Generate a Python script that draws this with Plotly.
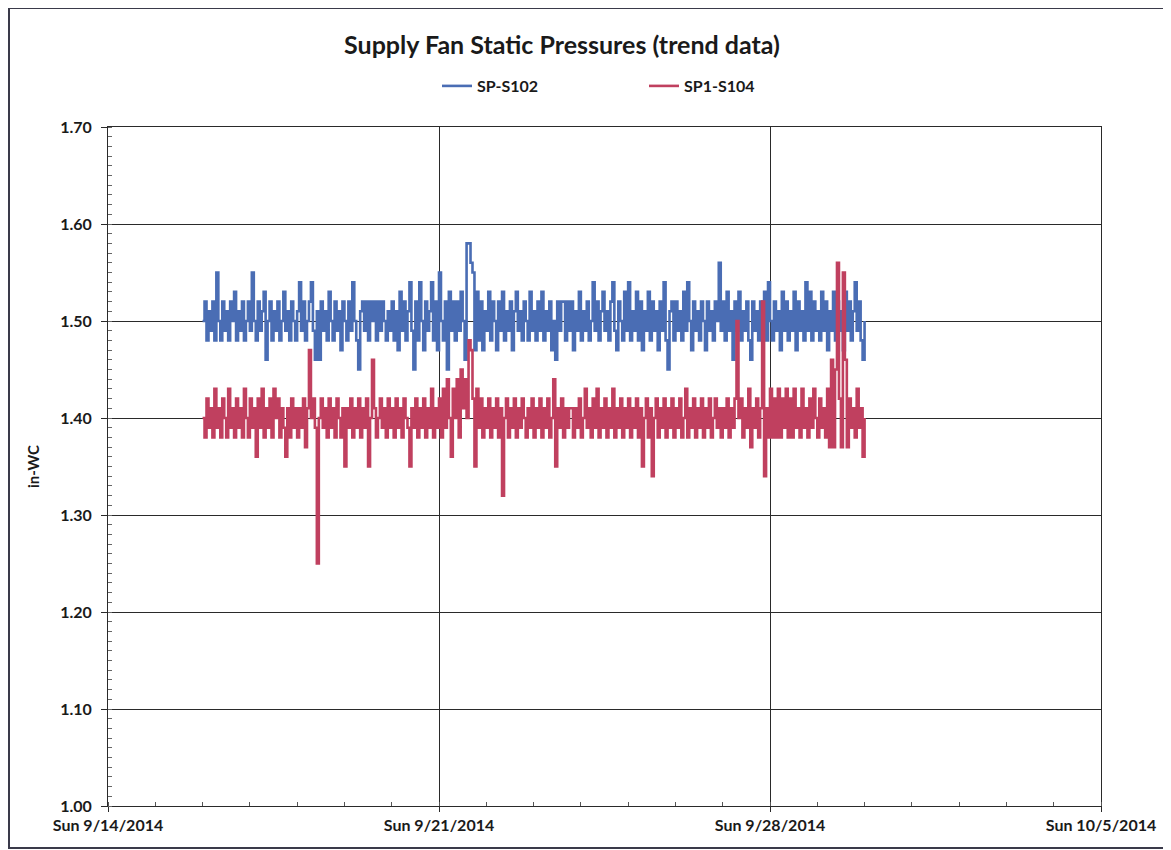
import pandas as pd
import plotly.graph_objects as go

# ---- data (hourly readings, 9/16/2014 00:00 .. 9/30/2014 00:00) ----
start_time = "2014-09-16 00:00"
sample_freq = "h"

sp_s102 = [
    1.50, 1.52, 1.48, 1.51, 1.49, 1.52, 1.48, 1.55, 1.50, 1.48, 1.52, 1.49, 1.51, 1.48, 1.52, 1.50, 1.53, 1.48, 1.51, 1.49, 1.52, 1.48, 1.50, 1.52,
    1.49, 1.55, 1.50, 1.48, 1.52, 1.49, 1.51, 1.53, 1.46, 1.50, 1.52, 1.48, 1.51, 1.49, 1.52, 1.48, 1.50, 1.53, 1.49, 1.51, 1.48, 1.52, 1.50, 1.48,
    1.51, 1.54, 1.49, 1.52, 1.48, 1.50, 1.52, 1.54, 1.49, 1.46, 1.51, 1.46, 1.52, 1.49, 1.51, 1.48, 1.53, 1.50, 1.48, 1.52, 1.49, 1.51, 1.47, 1.52,
    1.50, 1.48, 1.52, 1.49, 1.54, 1.50, 1.48, 1.45, 1.51, 1.52, 1.49, 1.52, 1.48, 1.52, 1.50, 1.52, 1.48, 1.52, 1.49, 1.52, 1.50, 1.48, 1.51, 1.49,
    1.52, 1.48, 1.51, 1.47, 1.53, 1.49, 1.52, 1.48, 1.51, 1.54, 1.49, 1.45, 1.52, 1.48, 1.54, 1.50, 1.47, 1.52, 1.49, 1.51, 1.54, 1.48, 1.52, 1.47,
    1.55, 1.50, 1.48, 1.52, 1.45, 1.53, 1.49, 1.52, 1.48, 1.52, 1.49, 1.53, 1.50, 1.46, 1.58, 1.58, 1.56, 1.55, 1.47, 1.53, 1.48, 1.52, 1.47, 1.51,
    1.49, 1.53, 1.48, 1.52, 1.50, 1.47, 1.52, 1.49, 1.53, 1.48, 1.51, 1.49, 1.52, 1.47, 1.51, 1.53, 1.49, 1.51, 1.48, 1.52, 1.50, 1.48, 1.53, 1.49,
    1.51, 1.48, 1.52, 1.49, 1.53, 1.48, 1.51, 1.49, 1.52, 1.47, 1.50, 1.46, 1.52, 1.49, 1.52, 1.52, 1.48, 1.52, 1.49, 1.52, 1.47, 1.51, 1.49, 1.53,
    1.48, 1.51, 1.49, 1.52, 1.48, 1.50, 1.54, 1.49, 1.52, 1.48, 1.51, 1.53, 1.49, 1.51, 1.48, 1.52, 1.54, 1.49, 1.47, 1.52, 1.50, 1.48, 1.53, 1.49,
    1.54, 1.48, 1.51, 1.49, 1.53, 1.48, 1.52, 1.47, 1.51, 1.49, 1.53, 1.48, 1.52, 1.49, 1.51, 1.47, 1.52, 1.49, 1.54, 1.48, 1.45, 1.51, 1.52, 1.48,
    1.52, 1.49, 1.51, 1.48, 1.53, 1.49, 1.54, 1.50, 1.47, 1.52, 1.49, 1.51, 1.48, 1.52, 1.50, 1.47, 1.52, 1.49, 1.51, 1.48, 1.52, 1.50, 1.56, 1.49,
    1.52, 1.48, 1.53, 1.49, 1.51, 1.46, 1.52, 1.49, 1.53, 1.48, 1.51, 1.49, 1.52, 1.48, 1.46, 1.52, 1.49, 1.51, 1.48, 1.52, 1.49, 1.53, 1.48, 1.54,
    1.50, 1.48, 1.52, 1.49, 1.51, 1.47, 1.53, 1.49, 1.52, 1.48, 1.51, 1.49, 1.53, 1.47, 1.52, 1.49, 1.51, 1.48, 1.54, 1.49, 1.53, 1.48, 1.52, 1.49,
    1.51, 1.48, 1.53, 1.49, 1.52, 1.47, 1.51, 1.49, 1.53, 1.48, 1.52, 1.49, 1.51, 1.47, 1.53, 1.49, 1.52, 1.48, 1.51, 1.54, 1.49, 1.52, 1.48, 1.46,
    1.50,
]

sp1_s104 = [
    1.40, 1.38, 1.42, 1.39, 1.41, 1.38, 1.43, 1.39, 1.41, 1.38, 1.42, 1.40, 1.38, 1.43, 1.39, 1.41, 1.38, 1.42, 1.39, 1.41, 1.38, 1.43, 1.40, 1.38,
    1.42, 1.39, 1.41, 1.36, 1.42, 1.39, 1.43, 1.38, 1.41, 1.39, 1.42, 1.38, 1.43, 1.40, 1.42, 1.38, 1.41, 1.39, 1.36, 1.41, 1.38, 1.42, 1.39, 1.41,
    1.38, 1.41, 1.39, 1.42, 1.37, 1.41, 1.47, 1.40, 1.42, 1.39, 1.25, 1.40, 1.42, 1.39, 1.41, 1.38, 1.42, 1.39, 1.41, 1.38, 1.42, 1.40, 1.38, 1.41,
    1.35, 1.41, 1.39, 1.42, 1.38, 1.41, 1.39, 1.42, 1.38, 1.41, 1.39, 1.42, 1.35, 1.40, 1.46, 1.41, 1.38, 1.40, 1.42, 1.39, 1.41, 1.38, 1.42, 1.39,
    1.41, 1.38, 1.42, 1.39, 1.41, 1.38, 1.42, 1.40, 1.39, 1.35, 1.41, 1.39, 1.42, 1.38, 1.41, 1.39, 1.42, 1.38, 1.41, 1.39, 1.43, 1.38, 1.41, 1.39,
    1.42, 1.38, 1.43, 1.39, 1.44, 1.40, 1.36, 1.43, 1.40, 1.44, 1.38, 1.45, 1.41, 1.44, 1.40, 1.48, 1.47, 1.42, 1.35, 1.43, 1.39, 1.42, 1.38, 1.41,
    1.39, 1.42, 1.38, 1.41, 1.39, 1.42, 1.38, 1.41, 1.32, 1.40, 1.42, 1.38, 1.41, 1.39, 1.42, 1.38, 1.41, 1.39, 1.42, 1.40, 1.38, 1.41, 1.39, 1.42,
    1.38, 1.41, 1.39, 1.42, 1.38, 1.41, 1.39, 1.42, 1.38, 1.40, 1.44, 1.35, 1.41, 1.39, 1.42, 1.38, 1.41, 1.39, 1.41, 1.41, 1.38, 1.41, 1.39, 1.42,
    1.38, 1.40, 1.43, 1.39, 1.41, 1.38, 1.42, 1.39, 1.43, 1.38, 1.41, 1.39, 1.42, 1.38, 1.41, 1.39, 1.43, 1.38, 1.41, 1.39, 1.42, 1.38, 1.41, 1.39,
    1.42, 1.38, 1.41, 1.39, 1.42, 1.38, 1.41, 1.35, 1.40, 1.42, 1.38, 1.41, 1.34, 1.40, 1.42, 1.38, 1.41, 1.39, 1.42, 1.38, 1.41, 1.39, 1.42, 1.38,
    1.41, 1.39, 1.42, 1.38, 1.40, 1.43, 1.38, 1.41, 1.39, 1.42, 1.38, 1.41, 1.39, 1.42, 1.38, 1.41, 1.39, 1.42, 1.38, 1.40, 1.42, 1.39, 1.41, 1.38,
    1.41, 1.39, 1.42, 1.38, 1.41, 1.39, 1.42, 1.50, 1.40, 1.42, 1.38, 1.41, 1.39, 1.43, 1.37, 1.41, 1.39, 1.42, 1.38, 1.41, 1.52, 1.34, 1.41, 1.38,
    1.43, 1.38, 1.42, 1.38, 1.43, 1.38, 1.42, 1.39, 1.43, 1.38, 1.42, 1.38, 1.43, 1.39, 1.41, 1.38, 1.43, 1.39, 1.41, 1.38, 1.42, 1.39, 1.43, 1.40,
    1.38, 1.42, 1.39, 1.41, 1.38, 1.43, 1.37, 1.46, 1.37, 1.45, 1.56, 1.42, 1.37, 1.55, 1.46, 1.37, 1.42, 1.39, 1.41, 1.38, 1.43, 1.39, 1.41, 1.36,
    1.40,
]

series_names = ["SP-S102", "SP1-S104"]
series_colors = ["#4a6db4", "#c0405f"]

x_range = ["2014-09-14", "2014-10-05"]
y_range = [1.00, 1.70]

times = pd.date_range(start=start_time, periods=len(sp_s102), freq=sample_freq)

fig = go.Figure()
for name, vals, col in zip(series_names, [sp_s102, sp1_s104], series_colors):
    fig.add_trace(go.Scatter(
        x=times, y=vals, mode="lines", name=name,
        line=dict(color=col, width=2.6, shape="hv", simplify=False),
    ))

font_family = "Lato, 'Open Sans', sans-serif"
txt = "#1a1a1a"

# figure-pixel geometry (page body adds an 8px offset)
ML, MT, PW, PH = 100, 119, 993, 679

fig.update_layout(
    width=1171, height=850,
    margin=dict(l=ML, r=1171 - ML - PW, t=MT, b=850 - MT - PH),
    paper_bgcolor="white", plot_bgcolor="white",
    font=dict(family=font_family, color=txt),
    title=dict(
        text="Supply Fan Static Pressures (trend data)",
        x=(562 - 8) / 1171, xanchor="center", y=1 - 37 / 850, yanchor="middle",
        font=dict(size=25, family=font_family, weight="bold", color=txt),
    ),
    legend=dict(
        orientation="h", x=(445 - 8 - ML - 8) / PW, xanchor="left", y=1.0 + 41 / PH, yanchor="middle",
        font=dict(size=16, weight="bold", color=txt),
        entrywidth=162, entrywidthmode="pixels",
        tracegroupgap=0, bgcolor="rgba(0,0,0,0)",
    ),
    showlegend=True,
)

fig.update_xaxes(
    type="date", range=x_range,
    tick0="2014-09-14", dtick=7 * 24 * 3600 * 1000,
    tickformat="%a %-m/%-d/%Y",
    tickfont=dict(size=16, weight="bold", color=txt),
    showgrid=True, gridcolor="#2a2a2a", gridwidth=1,
    showline=True, linecolor="#2a2a2a", linewidth=1, mirror=True,
    ticks="outside", ticklen=5, tickcolor="#2a2a2a",
    minor=dict(dtick=24 * 3600 * 1000, ticks="inside", ticklen=4, tickcolor="#555", showgrid=False),
    zeroline=False,
)
fig.update_yaxes(
    range=y_range, dtick=0.1, tickformat=".2f",
    tickfont=dict(size=16, weight="bold", color=txt),
    ticklabelstandoff=6,
    title=dict(text="in-WC", font=dict(size=15, weight="bold", color=txt), standoff=16),
    showgrid=True, gridcolor="#2a2a2a", gridwidth=1,
    showline=True, linecolor="#2a2a2a", linewidth=1, mirror=True,
    ticks="outside", ticklen=6, tickcolor="#2a2a2a",
    minor=dict(dtick=0.01, ticks="inside", ticklen=4, tickcolor="#666", showgrid=False),
    zeroline=False,
)

# outer chart border
fig.add_shape(
    type="rect", xref="paper", yref="paper",
    x0=(1 - ML) / PW, x1=(1161 - ML) / PW,
    y0=(MT + PH - 840) / PH, y1=(MT + PH - 0) / PH,
    line=dict(color="#3a3a4a", width=2), fillcolor="rgba(0,0,0,0)", layer="below",
)

fig.write_html("out.html")
